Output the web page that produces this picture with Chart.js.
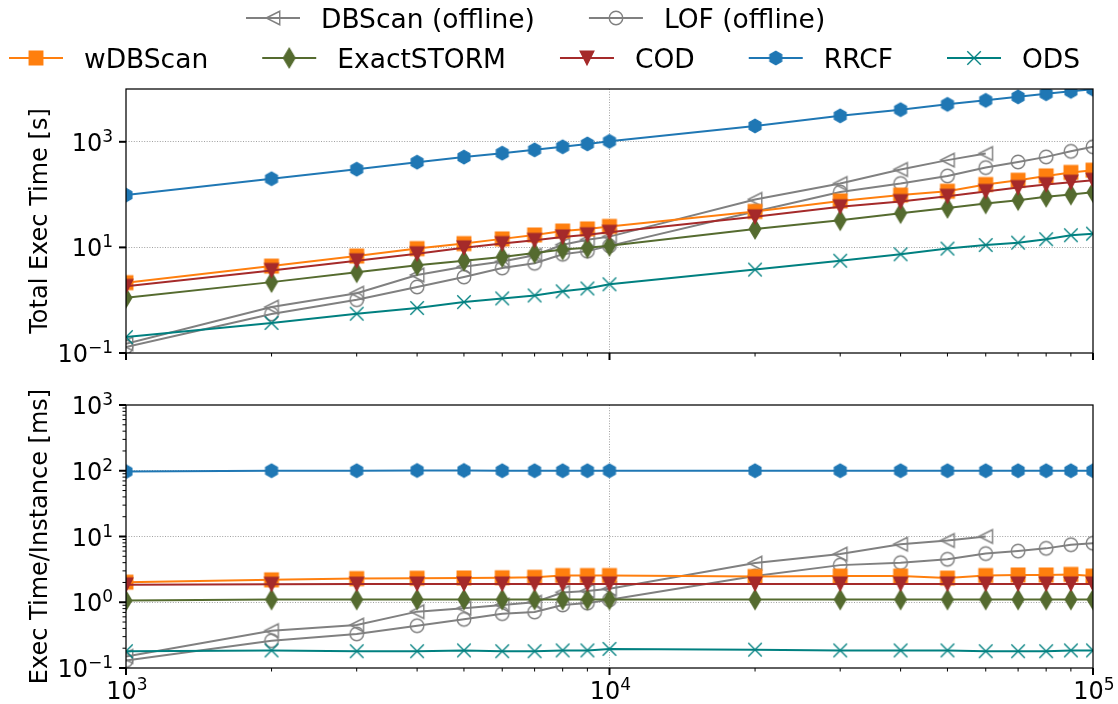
<!DOCTYPE html>
<html lang="en">
<head>
<meta charset="UTF-8">
<title>Execution time vs stream size</title>
<script src="https://cdn.jsdelivr.net/npm/chart.js"></script>
<style>
  body { margin: 0; background: #fff; }
  #wrap { position: relative; width: 1118px; height: 704px; }
  canvas { position: absolute; left: 0; }
  #topChart { top: 0; }
  #botChart { top: 380px; }
</style>
</head>
<body>
<div id="wrap">
  <canvas id="topChart" width="1118" height="380"></canvas>
  <canvas id="botChart" width="1118" height="324"></canvas>
</div>
<script>
// stream sizes (x)
const sizes = [1000, 2000, 3000, 4000, 5000, 6000, 7000, 8000, 9000, 10000,
               20000, 30000, 40000, 50000, 60000, 70000, 80000, 90000, 100000];

// total exec time [s]
const dbscanTotal = [0.15, 0.74, 1.36, 3.0, 4.3, 5.4, 7.1, 11.2, 14, 16, 81, 162, 299, 450, 600];
const lofTotal    = [0.13, 0.55, 1.02, 1.78, 2.75, 4.07, 5.0, 7.4, 8.5, 10.7, 48, 112, 162, 226, 325, 415, 518, 660, 804];
const wdbTotal    = [2.15, 4.43, 6.87, 9.5, 11.8, 14.5, 17.2, 20.4, 22.4, 25, 48, 76, 98, 116, 155, 187, 226, 263, 290];
const stormTotal  = [1.11, 2.2, 3.37, 4.57, 5.6, 6.6, 7.8, 9.1, 9.8, 10.7, 22.4, 32.6, 44.5, 56, 68, 78.5, 91, 100, 111];
const codTotal    = [1.83, 3.67, 5.6, 7.6, 9.8, 11.8, 13.6, 15.8, 17.4, 19.4, 38, 59, 74, 93, 115, 136, 155, 172, 187];
const rrcfTotal   = [98, 200, 303, 412, 513, 610, 705, 804, 912, 1020, 2000, 3100, 4060, 5120, 6100, 7100, 8130, 9040, 9900];
const odsTotal    = [0.2, 0.37, 0.555, 0.71, 0.92, 1.08, 1.23, 1.47, 1.67, 2.0, 3.8, 5.6, 7.4, 9.5, 11.1, 12.3, 14.3, 17, 18.2];

// exec time per instance [ms]
const dbscanInst = [0.15, 0.37, 0.45, 0.72, 0.81, 0.91, 1.0, 1.41, 1.48, 1.6, 3.94, 5.4, 7.65, 8.7, 10];
const lofInst    = [0.13, 0.26, 0.33, 0.44, 0.55, 0.67, 0.71, 0.91, 0.97, 1.09, 2.5, 3.67, 4.0, 4.5, 5.5, 6.0, 6.6, 7.5, 7.9];
const wdbInst    = [2.02, 2.19, 2.29, 2.32, 2.34, 2.36, 2.4, 2.55, 2.55, 2.55, 2.46, 2.5, 2.5, 2.33, 2.55, 2.6, 2.6, 2.65, 2.5];
const stormInst  = [1.06, 1.1, 1.1, 1.1, 1.1, 1.1, 1.1, 1.1, 1.1, 1.1, 1.1, 1.1, 1.1, 1.1, 1.1, 1.1, 1.1, 1.1, 1.1];
const codInst    = [1.84, 1.88, 1.89, 1.9, 1.9, 1.9, 1.9, 1.9, 1.9, 1.9, 1.9, 1.9, 1.9, 1.9, 1.9, 1.9, 1.9, 1.9, 1.9];
const rrcfInst   = [97, 100, 100, 101, 101, 100, 100, 100, 100, 100, 100, 100, 100, 100, 100, 100, 100, 100, 100];
const odsInst    = [0.18, 0.185, 0.18, 0.18, 0.185, 0.18, 0.18, 0.185, 0.185, 0.195, 0.19, 0.185, 0.185, 0.185, 0.18, 0.18, 0.18, 0.185, 0.185];

// axis ticks
const xMajor = [1000, 10000, 100000];
const topYMajor = [0.1, 10, 1000];
const botYMajor = [0.1, 1, 10, 100, 1000];

const FONT = '"DejaVu Sans", sans-serif';
const MS = 13.5;

function marker(shape, color, filled) {
  const dim = 28;
  const c = document.createElement('canvas');
  c.width = dim; c.height = dim;
  const g = c.getContext('2d');
  g.translate(dim / 2, dim / 2);
  const h = MS / 2;
  g.beginPath();
  if (shape === 'square') {
    g.rect(-h, -h, MS, MS);
  } else if (shape === 'circle') {
    g.arc(0, 0, h, 0, Math.PI * 2);
  } else if (shape === 'triLeft') {
    g.moveTo(-h, 0); g.lineTo(h, -h); g.lineTo(h, h); g.closePath();
  } else if (shape === 'triDown') {
    g.moveTo(0, h); g.lineTo(-h, -h); g.lineTo(h, -h); g.closePath();
  } else if (shape === 'thinDiamond') {
    const dy = h * Math.SQRT2, dx = dy * 0.6;
    g.moveTo(0, -dy); g.lineTo(dx, 0); g.lineTo(0, dy); g.lineTo(-dx, 0); g.closePath();
  } else if (shape === 'hexagon') {
    for (let k = 0; k < 6; k++) {
      const a = (-90 + 60 * k) * Math.PI / 180;
      if (k === 0) g.moveTo(h * Math.cos(a), h * Math.sin(a));
      else g.lineTo(h * Math.cos(a), h * Math.sin(a));
    }
    g.closePath();
  } else if (shape === 'x') {
    g.moveTo(-h, -h); g.lineTo(h, h); g.moveTo(-h, h); g.lineTo(h, -h);
  }
  g.lineWidth = 1.4;
  g.strokeStyle = color;
  if (filled) { g.fillStyle = color; g.fill(); }
  g.stroke();
  return c;
}

const styles = [
  { label: 'DBScan (offline)', color: '#808080', shape: 'triLeft', filled: false },
  { label: 'LOF (offline)', color: '#808080', shape: 'circle', filled: false },
  { label: 'wDBScan', color: '#ff7f0e', shape: 'square', filled: true },
  { label: 'ExactSTORM', color: '#556b2f', shape: 'thinDiamond', filled: true },
  { label: 'COD', color: '#a52a2a', shape: 'triDown', filled: true },
  { label: 'RRCF', color: '#1f77b4', shape: 'hexagon', filled: true },
  { label: 'ODS', color: '#008080', shape: 'x', filled: false }
];
styles.forEach(s => { s.img = marker(s.shape, s.color, s.filled); });

function points(values) {
  return values.map((v, i) => ({ x: sizes[i], y: v }));
}

function makeDatasets(list) {
  return list.map((vals, i) => ({
    label: styles[i].label,
    data: points(vals),
    borderColor: styles[i].color,
    backgroundColor: styles[i].color,
    borderWidth: 2,
    pointStyle: styles[i].img,
    pointRadius: 7,
    tension: 0,
    order: list.length - i
  }));
}

function drawPow(ctx, exp, x, baseY, align) {
  const base = '10';
  const sup = exp < 0 ? '\u2212' + (-exp) : String(exp);
  ctx.font = '24px ' + FONT;
  const bw = ctx.measureText(base).width;
  ctx.font = '17px ' + FONT;
  const sw = ctx.measureText(sup).width;
  let x0 = align === 'right' ? x - bw - sw : x - (bw + sw) / 2;
  ctx.textAlign = 'left';
  ctx.textBaseline = 'alphabetic';
  ctx.font = '24px ' + FONT;
  ctx.fillText(base, x0, baseY);
  ctx.font = '17px ' + FONT;
  ctx.fillText(sup, x0 + bw, baseY - 9);
}

const decor = {
  id: 'decor',
  afterDraw(chart, args, opts) {
    const ctx = chart.ctx, a = chart.chartArea;
    const xs = chart.scales.x, ys = chart.scales.y;
    ctx.save();
    ctx.strokeStyle = '#000';
    ctx.fillStyle = '#000';
    const line = (x1, y1, x2, y2, w) => {
      ctx.lineWidth = w; ctx.beginPath(); ctx.moveTo(x1, y1); ctx.lineTo(x2, y2); ctx.stroke();
    };
    // x ticks
    for (let d = 3; d < 5; d++) {
      for (let k = 2; k <= 9; k++) {
        const p = xs.getPixelForValue(k * Math.pow(10, d));
        line(p, a.bottom, p, a.bottom + 3.5, 1);
      }
    }
    xMajor.forEach(v => { const p = xs.getPixelForValue(v); line(p, a.bottom, p, a.bottom + 7, 2); });
    // y ticks
    if (opts.yMinor) {
      for (let d = -1; d < 3; d++) {
        for (let k = 2; k <= 9; k++) {
          const p = ys.getPixelForValue(k * Math.pow(10, d));
          line(a.left, p, a.left - 3.5, p, 1);
        }
      }
    }
    opts.yMajor.forEach(v => { const p = ys.getPixelForValue(v); line(a.left, p, a.left - 7, p, 2); });
    // frame
    ctx.lineWidth = 1.25;
    ctx.strokeRect(a.left, a.top, a.right - a.left, a.bottom - a.top);
    // y tick labels
    opts.yMajor.forEach(v => {
      const p = ys.getPixelForValue(v);
      drawPow(ctx, Math.round(Math.log10(v)), 113, p + 9, 'right');
    });
    // x tick labels
    if (opts.xLabels) {
      xMajor.forEach(v => {
        const p = xs.getPixelForValue(v);
        drawPow(ctx, Math.round(Math.log10(v)), p + 1, a.bottom + 31, 'center');
      });
    }
    // y title
    ctx.save();
    ctx.translate(41, (a.top + a.bottom) / 2);
    ctx.rotate(-Math.PI / 2);
    ctx.font = '24px ' + FONT;
    ctx.textAlign = 'center';
    ctx.textBaseline = 'middle';
    ctx.fillText(opts.title, 0, 0);
    ctx.restore();
    // legend
    if (opts.legend) {
      const rows = [{ start: 246, y: 18, items: [0, 1] }, { start: 9, y: 58, items: [2, 3, 4, 5, 6] }];
      ctx.font = '26.5px ' + FONT;
      rows.forEach(r => {
        let x = r.start;
        r.items.forEach(i => {
          const ds = chart.data.datasets[i];
          const s = styles[i];
          ctx.strokeStyle = ds.borderColor;
          line(x, r.y, x + 54, r.y, 2);
          ctx.drawImage(s.img, x + 27 - s.img.width / 2, r.y - s.img.height / 2);
          ctx.fillStyle = '#000';
          ctx.textAlign = 'left';
          ctx.textBaseline = 'alphabetic';
          ctx.fillText(ds.label, x + 75, r.y + 9.5);
          x += 75 + ctx.measureText(ds.label).width + 54;
        });
      });
    }
    ctx.restore();
  }
};

function scaleOpts(min, max, tickVals, gridVals) {
  return {
    type: 'logarithmic',
    min: min,
    max: max,
    afterBuildTicks: s => { s.ticks = tickVals.map(v => ({ value: v })); },
    ticks: { display: false },
    grid: {
      drawTicks: false,
      lineWidth: 1,
      color: c => (c.tick && gridVals.includes(c.tick.value)) ? '#a0a0a0' : 'rgba(0,0,0,0)'
    },
    border: { display: false, dash: [1, 1.6] }
  };
}

function makeChart(id, datasets, pad, yMin, yMax, yMajor, yGrid, decorOpts) {
  return new Chart(document.getElementById(id), {
    type: 'line',
    data: { datasets: datasets },
    options: {
      responsive: false,
      animation: false,
      devicePixelRatio: 1,
      events: [],
      layout: { padding: pad },
      scales: {
        x: scaleOpts(1000, 100000, xMajor, [10000]),
        y: scaleOpts(yMin, yMax, yMajor, yGrid)
      },
      plugins: {
        legend: { display: false },
        tooltip: { enabled: false },
        decor: decorOpts
      }
    },
    plugins: [decor]
  });
}

makeChart('topChart',
  makeDatasets([dbscanTotal, lofTotal, wdbTotal, stormTotal, codTotal, rrcfTotal, odsTotal]),
  { left: 126, right: 25, top: 89, bottom: 27 },
  0.1, 10000, topYMajor, [10, 1000],
  { yMajor: topYMajor, yMinor: false, xLabels: false, legend: true, title: 'Total Exec Time [s]' });

makeChart('botChart',
  makeDatasets([dbscanInst, lofInst, wdbInst, stormInst, codInst, rrcfInst, odsInst]),
  { left: 126, right: 25, top: 25, bottom: 36 },
  0.1, 1000, botYMajor, [1, 10, 100],
  { yMajor: botYMajor, yMinor: true, xLabels: true, legend: false, title: 'Exec Time/Instance [ms]' });
</script>
</body>
</html>
